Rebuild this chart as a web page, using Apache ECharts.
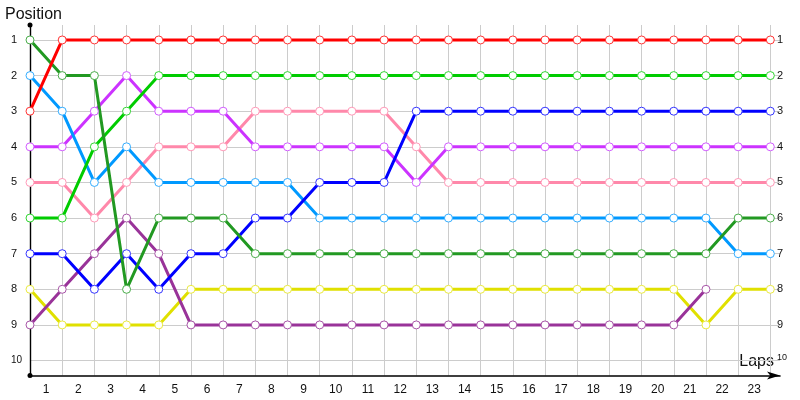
<!DOCTYPE html>
<html>
<head>
<meta charset="utf-8">
<script src="https://cdn.jsdelivr.net/npm/echarts@6/dist/echarts.min.js"></script>
<style>
html,body{margin:0;padding:0;background:#fff;}
#chart{width:800px;height:400px;}
</style>
</head>
<body>
<div id="chart"></div>
<script>
// x positions (lap index at each point)
const laps = [0,1,2,3,4,5,6,7,8,9,10,11,12,13,14,15,16,17,18,19,20,21,22,23];
// lap tick labels (drawn between points)
const lapLabels = ['1','2','3','4','5','6','7','8','9','10','11','12','13','14','15','16','17','18','19','20','21','22','23'];
// position tick labels
const positionLabels = ['1','2','3','4','5','6','7','8','9','10'];

// series positions per lap
const yellow      = [8,9,9,9,9,8,8,8,8,8,8,8,8,8,8,8,8,8,8,8,8,9,8,8];
const purple      = [9,8,7,6,7,9,9,9,9,9,9,9,9,9,9,9,9,9,9,9,9,8,null,null];
const pink        = [5,5,6,5,4,4,4,3,3,3,3,3,4,5,5,5,5,5,5,5,5,5,5,5];
const magenta     = [4,4,3,2,3,3,3,4,4,4,4,4,5,4,4,4,4,4,4,4,4,4,4,4];
const lightBlue   = [2,3,5,4,5,5,5,5,5,6,6,6,6,6,6,6,6,6,6,6,6,6,7,7];
const blue        = [7,7,8,7,8,7,7,6,6,5,5,5,3,3,3,3,3,3,3,3,3,3,3,3];
const brightGreen = [6,6,4,3,2,2,2,2,2,2,2,2,2,2,2,2,2,2,2,2,2,2,2,2];
const darkGreen   = [1,2,2,8,6,6,6,7,7,7,7,7,7,7,7,7,7,7,7,7,7,7,6,6];
const red         = [3,1,1,1,1,1,1,1,1,1,1,1,1,1,1,1,1,1,1,1,1,1,1,1];

const seriesDefs = [
  {vals: yellow,      color: '#e0e000', border: '#eaea40'},
  {vals: purple,      color: '#993399', border: '#a855a8'},
  {vals: pink,        color: '#ff88aa', border: '#ff99b8'},
  {vals: magenta,     color: '#cc33ff', border: '#d25cff'},
  {vals: lightBlue,   color: '#0099ff', border: '#33adff'},
  {vals: blue,        color: '#0000ff', border: '#3333ff'},
  {vals: brightGreen, color: '#00cc00', border: '#33d633'},
  {vals: darkGreen,   color: '#229922', border: '#4aad4a'},
  {vals: red,         color: '#ff0000', border: '#ff3333'}
];

const XMAX = 23.3, YMIN = 0.58, YMAX = 10.42;
const FONT = 'Liberation Sans';

const chart = echarts.init(document.getElementById('chart'), null, {renderer: 'canvas'});

const posIndex = v => {
  const r = Math.round(v);
  return Math.abs(v - r) < 1e-6 && r >= 1 && r <= positionLabels.length ? r : 0;
};
const leftLabel = v => {
  const r = posIndex(v);
  if (!r) return '';
  return r === positionLabels.length ? '{s|' + positionLabels[r - 1] + '}' : positionLabels[r - 1];
};
const rightLabel = v => {
  const r = posIndex(v);
  if (!r) return '';
  return r === positionLabels.length ? '{t|' + positionLabels[r - 1] + '}' : positionLabels[r - 1];
};

chart.setOption({
  animation: false,
  backgroundColor: '#ffffff',
  grid: {left: 30, right: 20, top: 25, bottom: 24.5, containLabel: false},
  xAxis: [
    {
      type: 'value', min: 0, max: XMAX, interval: 1,
      axisLine: {show: true, lineStyle: {color: '#000', width: 1.6}, symbol: ['none', 'arrow'], symbolSize: [6, 13]},
      axisTick: {show: false},
      axisLabel: {show: false},
      splitLine: {show: true, showMinLine: true, showMaxLine: false, lineStyle: {color: '#cccccc', width: 1}}
    },
    {
      type: 'value', min: 0, max: XMAX, interval: 0.5, position: 'bottom',
      axisLine: {show: false}, axisTick: {show: false}, splitLine: {show: false},
      axisLabel: {
        show: true, margin: 8, fontSize: 12, fontFamily: FONT, color: '#111',
        formatter: v => {
          const k = v - 0.5;
          const r = Math.round(k);
          return Math.abs(k - r) < 1e-6 && r >= 0 && r < lapLabels.length ? lapLabels[r] : '';
        }
      }
    }
  ],
  yAxis: [
    {
      type: 'value', inverse: true, min: YMIN, max: YMAX, splitNumber: 10,
      axisLine: {show: true, lineStyle: {color: '#000', width: 1.4}, symbol: ['circle', 'circle'], symbolSize: [5, 5]},
      axisTick: {show: false},
      axisLabel: {
        show: true, align: 'left', margin: 19, fontSize: 11, fontFamily: FONT, color: '#111', formatter: leftLabel,
        rich: {s: {fontSize: 10, fontFamily: FONT, color: '#111'}}
      },
      splitLine: {show: true, showMinLine: false, showMaxLine: false, lineStyle: {color: '#cccccc', width: 1}}
    },
    {
      type: 'value', inverse: true, min: YMIN, max: YMAX, splitNumber: 10, position: 'right',
      axisLine: {show: false}, axisTick: {show: false}, splitLine: {show: false},
      axisLabel: {
        show: true, margin: -3, fontSize: 11, fontFamily: FONT, color: '#111', formatter: rightLabel,
        rich: {t: {fontSize: 9, fontFamily: FONT, color: '#111', padding: [0, 0, 6, 0]}}
      }
    }
  ],
  graphic: [
    {type: 'text', left: 5, top: 7, style: {text: 'Position', font: '16px "' + FONT + '"', fill: '#111'}},
    {type: 'text', right: 26, top: 354, style: {text: 'Laps', font: '16px "' + FONT + '"', fill: '#111'}}
  ],
  series: seriesDefs.map(d => ({
    type: 'line',
    xAxisIndex: 0, yAxisIndex: 0,
    data: laps.map((x, i) => d.vals[i] == null ? null : [x, d.vals[i]]).filter(p => p !== null),
    symbol: 'circle', symbolSize: 8, showAllSymbol: true,
    lineStyle: {color: d.color, width: 3},
    itemStyle: {color: '#ffffff', borderColor: d.border, borderWidth: 1},
    emphasis: {disabled: true},
    silent: true
  }))
});
</script>
</body>
</html>
